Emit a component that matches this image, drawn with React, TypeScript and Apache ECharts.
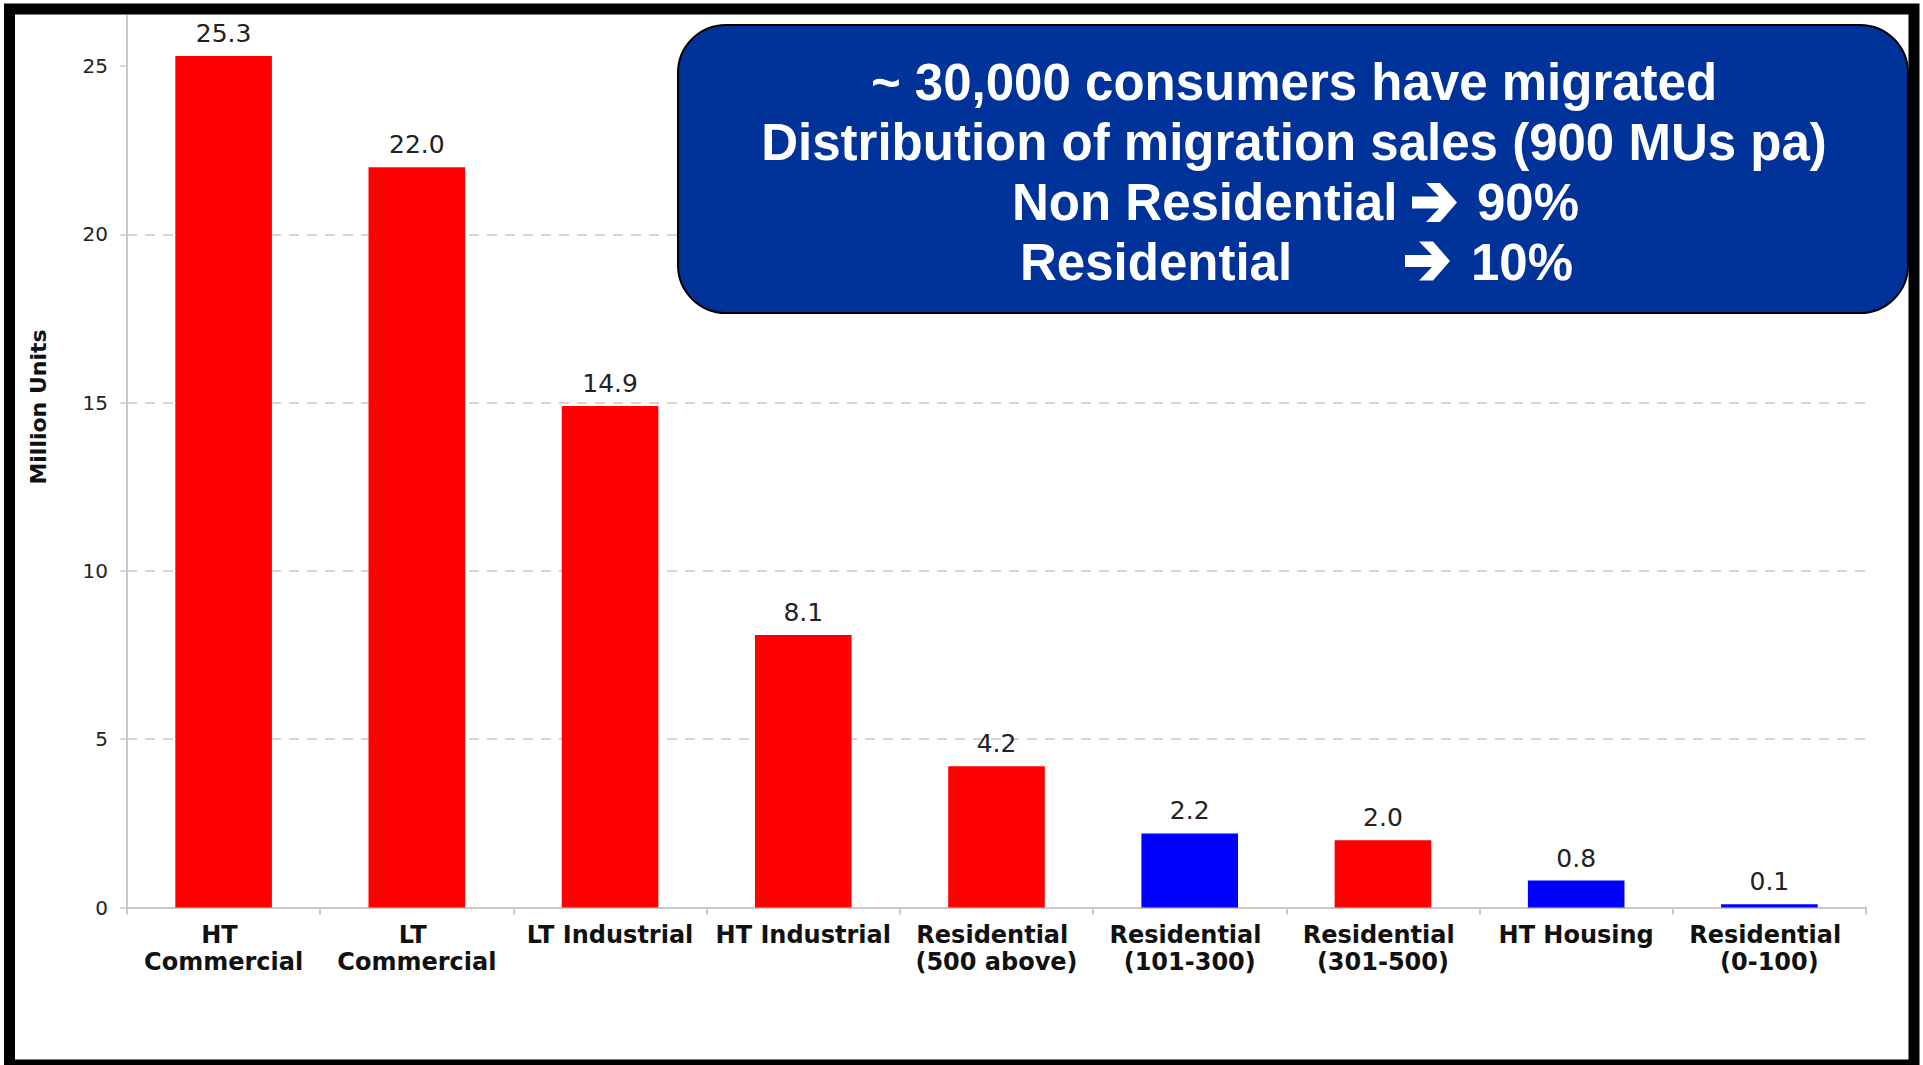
import React, { useEffect, useRef } from "react";
import * as echarts from "echarts";

const categories = [
  "HT Commercial",
  "LT Commercial",
  "LT Industrial",
  "HT Industrial",
  "Residential (500 above)",
  "Residential (101-300)",
  "Residential (301-500)",
  "HT Housing",
  "Residential (0-100)",
];
const values = [25.3, 22.0, 14.9, 8.1, 4.2, 2.2, 2.0, 0.8, 0.1];
const barColors = [
  "#ff0000",
  "#ff0000",
  "#ff0000",
  "#ff0000",
  "#ff0000",
  "#0000ff",
  "#ff0000",
  "#0000ff",
  "#0000ff",
];
const yTicks = [0, 5, 10, 15, 20, 25];
const yAxisTitle = "Million Units";
const calloutTitle = ["~ 30,000 consumers have migrated", "Distribution of migration sales (900 MUs pa)"];
const calloutLabels = ["Non Residential", "Residential"];
const calloutShares = ["90%", "10%"];

const BOX_FONT = '"Liberation Sans", Arial, "DejaVu Sans", sans-serif';

// chevron-headed arrow (Wingdings-like), origin at left-middle
const ARROW_POINTS = [
  [0, -6],
  [27, -6],
  [14, -19.5],
  [28, -19.5],
  [45, 0],
  [28, 19.5],
  [14, 19.5],
  [27, 6],
  [0, 6],
];

export default function App() {
  const ref = useRef<HTMLDivElement>(null);

  useEffect(() => {
    if (!ref.current) return;
    const chart = echarts.init(ref.current, null, { renderer: "svg" });

    const boxText = (text: string, x: number, y: number, align: string) => ({
      type: "text",
      x,
      y,
      z: 101,
      silent: true,
      style: {
        text,
        fontFamily: BOX_FONT,
        fontWeight: "bold",
        fontSize: 51,
        fill: "#ffffff",
        align,
        verticalAlign: "middle",
      },
    });
    const arrow = (x: number, y: number) => ({
      type: "polygon",
      x,
      y,
      z: 101,
      silent: true,
      shape: { points: ARROW_POINTS },
      style: { fill: "#ffffff" },
    });

    chart.setOption({
      animation: false,
      backgroundColor: "#ffffff",
      grid: {
        left: 127,
        right: 57,
        top: 15.7,
        bottom: 157.5,
        outerBoundsMode: "none",
      },
      xAxis: {
        type: "category",
        data: categories,
        boundaryGap: true,
        axisLine: { show: true, lineStyle: { color: "#c8c8c8", width: 2 } },
        axisTick: { show: true, length: 7, lineStyle: { color: "#c8c8c8", width: 2 } },
        axisLabel: {
          interval: 0,
          margin: 14,
          fontFamily: "DejaVu Sans",
          fontWeight: "bold",
          fontSize: 24,
          lineHeight: 27,
          color: "#111111",
          width: 182,
          overflow: "break",
        },
        splitLine: { show: false },
      },
      yAxis: {
        type: "value",
        min: 0,
        max: 26.5,
        interval: 5,
        axisLine: { show: true, lineStyle: { color: "#c8c8c8", width: 2 } },
        axisTick: {
          show: true,
          length: 7,
          customValues: yTicks,
          lineStyle: { color: "#c8c8c8", width: 1.5 },
        },
        axisLabel: {
          customValues: yTicks,
          margin: 19,
          fontFamily: "DejaVu Sans",
          fontSize: 20,
          color: "#222222",
        },
        splitLine: {
          show: true,
          showMaxLine: false,
          lineStyle: { type: [10, 8], color: "#c8c8c8", width: 1.5 },
        },
      },
      series: [
        {
          type: "bar",
          barWidth: "50%",
          data: values.map((v, i) => ({ value: v, itemStyle: { color: barColors[i] } })),
          label: {
            show: true,
            position: "top",
            distance: 10,
            formatter: (p: any) => Number(p.value).toFixed(1),
            fontFamily: "DejaVu Sans",
            fontSize: 25,
            color: "#222222",
          },
        },
      ],
      graphic: [
        {
          type: "text",
          x: 38,
          y: 407,
          rotation: Math.PI / 2,
          silent: true,
          style: {
            text: yAxisTitle,
            fontFamily: "DejaVu Sans",
            fontWeight: "bold",
            fontSize: 22,
            fill: "#111111",
            align: "center",
            verticalAlign: "middle",
          },
        },
        {
          type: "rect",
          z: 100,
          silent: true,
          shape: { x: 678, y: 25, width: 1230, height: 288, r: 48 },
          style: { fill: "#003399", stroke: "#000000", lineWidth: 2 },
        },
        boxText(calloutTitle[0], 1294, 82, "center"),
        boxText(calloutTitle[1], 1294, 142, "center"),
        boxText(calloutLabels[0], 1012, 202, "left"),
        arrow(1412, 202.5),
        boxText(calloutShares[0], 1477, 202, "left"),
        boxText(calloutLabels[1], 1020, 262, "left"),
        arrow(1405, 261),
        boxText(calloutShares[1], 1471, 262, "left"),
        {
          type: "rect",
          z: 110,
          silent: true,
          shape: { x: 9.5, y: 9, width: 1904.5, height: 1056 },
          style: { fill: "none", stroke: "#000000", lineWidth: 11 },
        },
      ],
    });

    return () => chart.dispose();
  }, []);

  return (
    <div
      ref={ref}
      style={{ position: "absolute", left: 0, top: 0, width: 1923, height: 1065 }}
    />
  );
}
